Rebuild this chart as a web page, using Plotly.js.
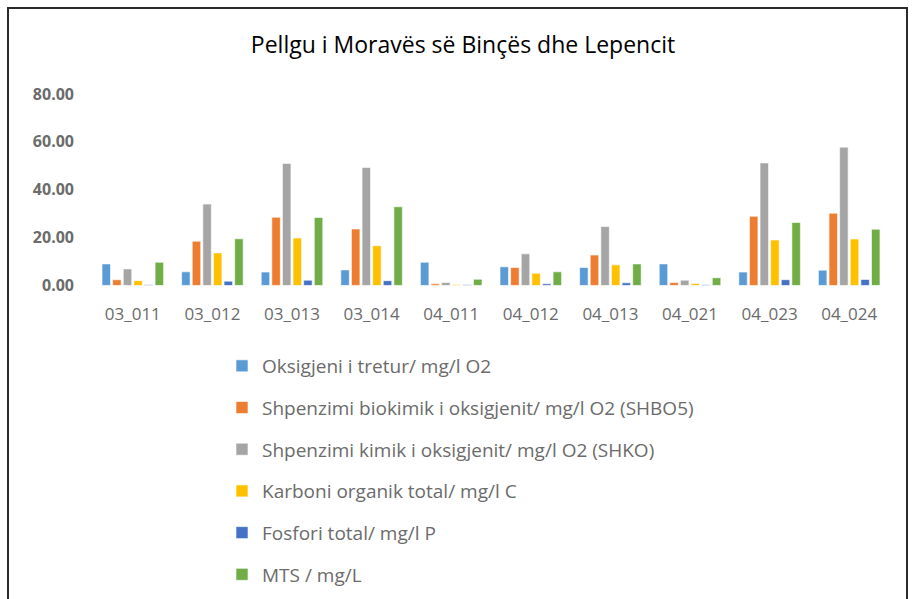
<!DOCTYPE html>
<html>
<head>
<meta charset="utf-8">
<script src="https://cdn.plot.ly/plotly-3.0.1.min.js"></script>
<style>
html,body{margin:0;padding:0;background:#fff;}
#wrap{position:relative;width:912px;height:599px;overflow:hidden;}
#chart{position:absolute;left:0;top:0;width:912px;height:599px;}
#frame{position:absolute;left:7px;top:7px;width:897px;height:620px;border:2px solid #2b2b2b;pointer-events:none;}
</style>
</head>
<body>
<div id="wrap"><div id="chart"></div><div id="frame"></div></div>
<script>
const categories = ["03_011","03_012","03_013","03_014","04_011","04_012","04_013","04_021","04_023","04_024"];
const seriesNames = [
  "Oksigjeni i tretur/ mg/l O2",
  "Shpenzimi biokimik i oksigjenit/ mg/l O2 (SHBO5)",
  "Shpenzimi kimik i oksigjenit/ mg/l O2 (SHKO)",
  "Karboni organik total/ mg/l C",
  "Fosfori total/ mg/l P",
  "MTS / mg/L"
];
const oksigjeni = [9.0, 5.7, 5.6, 6.5, 9.7, 7.8, 7.5, 9.0, 5.6, 6.4];
const shbo5     = [2.4, 18.5, 28.5, 23.6, 0.7, 7.5, 12.7, 1.2, 28.9, 30.2];
const shko      = [6.9, 34.0, 51.0, 49.3, 1.2, 13.2, 24.6, 2.2, 51.2, 57.8];
const karboni   = [2.0, 13.6, 19.8, 16.6, 0.4, 5.1, 8.6, 0.8, 19.0, 19.4];
const fosfori   = [0.3, 1.8, 2.2, 2.0, 0.3, 0.7, 1.1, 0.3, 2.4, 2.5];
const mts       = [9.7, 19.5, 28.4, 32.9, 2.6, 5.7, 9.0, 3.2, 26.3, 23.5];
const colors = ["#5B9BD5","#ED7D31","#A5A5A5","#FFC000","#4472C4","#70AD47"];
const allValues = [oksigjeni, shbo5, shko, karboni, fosfori, mts];

const font = "Open Sans, Liberation Sans, Arial, sans-serif";
const textGray = "#6b6b6b";
const traces = allValues.map((vals, i) => ({
  type: "bar",
  name: seriesNames[i],
  x: categories,
  y: vals,
  legendgroup: "g" + i,
  marker: {color: colors[i], line: {color: "rgba(255,255,255,0.6)", width: 1}},
  hoverinfo: "x+y+name"
}));

// paper: left 93, right 889, top 94, bottom 594 (height 500); plot bottom at 287
const layout = {
  width: 912, height: 599,
  margin: {l: 93, r: 23, t: 94, b: 5},
  paper_bgcolor: "#ffffff",
  plot_bgcolor: "#ffffff",
  barmode: "group",
  bargap: 0.2,
  bargroupgap: 0.2,
  title: {
    text: "Pellgu i Moravës së Binçës dhe Lepencit",
    font: {family: font, size: 23, color: "#000000"},
    x: 463/912, xanchor: "center", xref: "container",
    y: 1 - 45/599, yanchor: "middle", yref: "container"
  },
  xaxis: {
    type: "category",
    showgrid: false, zeroline: false, showline: false,
    ticks: "", ticklabelstandoff: 17,
    tickfont: {family: font, size: 17, color: textGray}
  },
  yaxis: {
    domain: [(594 - 287) / 500, 1],
    range: [0, 80], dtick: 20, tickformat: ".2f",
    showgrid: false, zeroline: false, showline: false,
    ticks: "", ticklabelstandoff: 18,
    tickfont: {family: font, size: 16, color: textGray, weight: "bold"}
  },
  showlegend: true,
  legend: {
    orientation: "v",
    x: (222 - 93) / 796, xanchor: "left",
    y: (594 - 349) / 500, yanchor: "top",
    font: {family: font, size: 19, color: textGray},
    tracegroupgap: 14,
    itemwidth: 30,
    bgcolor: "rgba(0,0,0,0)"
  }
};

Plotly.newPlot("chart", traces, layout, {displayModeBar: false, staticPlot: true});
</script>
</body>
</html>
